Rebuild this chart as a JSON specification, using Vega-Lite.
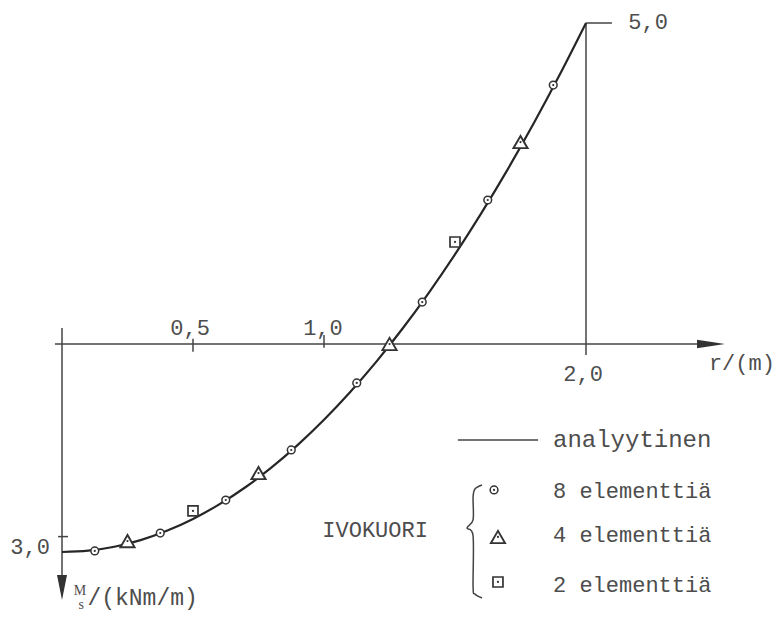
{
  "$schema": "https://vega.github.io/schema/vega-lite/v6.json",
  "width": 776,
  "height": 624,
  "padding": 0,
  "autosize": {"type": "fit", "contains": "padding"},
  "background": "white",
  "config": {"view": {"stroke": null}},
  "datasets": {
    "curve": [
      {"r": 0.0, "M": -3.24}, {"r": 0.1, "M": -3.219}, {"r": 0.2, "M": -3.158},
      {"r": 0.3, "M": -3.055}, {"r": 0.4, "M": -2.91}, {"r": 0.5, "M": -2.725},
      {"r": 0.6, "M": -2.498}, {"r": 0.7, "M": -2.231}, {"r": 0.8, "M": -1.922},
      {"r": 0.9, "M": -1.571}, {"r": 1.0, "M": -1.18}, {"r": 1.1, "M": -0.747},
      {"r": 1.2, "M": -0.274}, {"r": 1.3, "M": 0.241}, {"r": 1.4, "M": 0.798},
      {"r": 1.5, "M": 1.395}, {"r": 1.6, "M": 2.034}, {"r": 1.7, "M": 2.713},
      {"r": 1.8, "M": 3.434}, {"r": 1.9, "M": 4.197}, {"r": 2.0, "M": 5.0}
    ],
    "el8": [
      {"r": 0.125, "M": -3.224}, {"r": 0.375, "M": -2.944}, {"r": 0.625, "M": -2.43},
      {"r": 0.875, "M": -1.651}, {"r": 1.125, "M": -0.607}, {"r": 1.375, "M": 0.654},
      {"r": 1.625, "M": 2.243}, {"r": 1.875, "M": 4.034},
      {"r": 1.649, "M": -2.274}
    ],
    "el4": [
      {"r": 0.25, "M": -3.07}, {"r": 0.75, "M": -2.01}, {"r": 1.25, "M": 0.0},
      {"r": 1.75, "M": 3.146},
      {"r": 1.664, "M": -3.006}
    ],
    "el2": [
      {"r": 0.5, "M": -2.6}, {"r": 1.5, "M": 1.589},
      {"r": 1.664, "M": -3.707}
    ],
    "segs": [
      {"r1": -0.027, "r2": 2.45, "M1": 0.0, "M2": 0.0},
      {"r1": 0.0, "r2": 0.0, "M1": 0.25, "M2": -3.6},
      {"r1": 2.0, "r2": 2.0, "M1": 5.0, "M2": -0.17},
      {"r1": 2.0, "r2": 2.099, "M1": 5.0, "M2": 5.0},
      {"r1": -0.015, "r2": 0.023, "M1": -3.0, "M2": -3.0},
      {"r1": 0.5, "r2": 0.5, "M1": 0.08, "M2": -0.12},
      {"r1": 1.0, "r2": 1.0, "M1": 0.14, "M2": -0.06},
      {"r1": 1.511, "r2": 1.817, "M1": -1.495, "M2": -1.495}
    ],
    "brace": [
      {"i": 0, "r": 1.603, "M": -2.196},
      {"i": 1, "r": 1.576, "M": -2.259},
      {"i": 2, "r": 1.569, "M": -2.383},
      {"i": 3, "r": 1.569, "M": -2.741},
      {"i": 4, "r": 1.546, "M": -2.866},
      {"i": 5, "r": 1.569, "M": -2.991},
      {"i": 6, "r": 1.569, "M": -3.785},
      {"i": 7, "r": 1.576, "M": -3.894},
      {"i": 8, "r": 1.603, "M": -3.956}
    ],
    "arrowX": [{"r": 2.477, "M": 0.0}],
    "arrowY": [{"r": 0.0, "M": -3.793}],
    "labelsC": [
      {"r": 0.489, "M": 0.249, "t": "0,5"},
      {"r": 0.996, "M": 0.249, "t": "1,0"},
      {"r": 1.989, "M": -0.47, "t": "2,0"},
      {"r": 2.237, "M": 5.016, "t": "5,0"},
      {"r": -0.122, "M": -3.162, "t": "3,0"},
      {"r": 2.595, "M": -0.296, "t": "r/(m)"},
      {"r": 1.195, "M": -2.897, "t": "IVOKUORI"}
    ],
    "labelsA": [
      {"r": 1.874, "M": -1.495, "t": "analyytinen"}
    ],
    "labelsL": [
      {"r": 1.874, "M": -2.29, "t": "8 elementtiä"},
      {"r": 1.874, "M": -2.975, "t": "4 elementtiä"},
      {"r": 1.874, "M": -3.754, "t": "2 elementtiä"}
    ],
    "labM": [{"r": 0.069, "M": -3.84, "t": "M"}],
    "labS": [{"r": 0.073, "M": -4.06, "t": "s"}],
    "labU": [{"r": 0.097, "M": -3.95, "t": "/(kNm/m)"}]
  },
  "encoding": {
    "x": {"field": "r", "type": "quantitative", "scale": {"domain": [-0.23664, 2.72519], "nice": false, "zero": false}, "axis": null},
    "y": {"field": "M", "type": "quantitative", "scale": {"domain": [-4.3614, 5.3583], "nice": false, "zero": false}, "axis": null}
  },
  "layer": [
    {
      "data": {"name": "segs"},
      "mark": {"type": "rule", "stroke": "#444444", "strokeWidth": 1.5},
      "encoding": {
        "x": {"field": "r1", "type": "quantitative"},
        "x2": {"field": "r2"},
        "y": {"field": "M1", "type": "quantitative"},
        "y2": {"field": "M2"}
      }
    },
    {
      "data": {"name": "curve"},
      "mark": {"type": "line", "stroke": "#262626", "strokeWidth": 2.2, "interpolate": "monotone"},
      "encoding": {}
    },
    {
      "data": {"name": "brace"},
      "mark": {"type": "line", "stroke": "#444444", "strokeWidth": 1.5, "interpolate": "cardinal"},
      "encoding": {"order": {"field": "i", "type": "quantitative"}}
    },
    {
      "data": {"name": "arrowX"},
      "mark": {"type": "point", "shape": "M-1,-0.3L1,0L-1,0.3Z", "size": 784, "filled": true, "fill": "#333333", "opacity": 1, "strokeWidth": 0}
    },
    {
      "data": {"name": "arrowY"},
      "mark": {"type": "point", "shape": "M-0.4,-1L0.4,-1L0,1Z", "size": 625, "filled": true, "fill": "#333333", "opacity": 1, "strokeWidth": 0}
    },
    {
      "data": {"name": "el8"},
      "mark": {"type": "point", "shape": "circle", "size": 60, "filled": false, "stroke": "#333333", "strokeWidth": 1.5, "opacity": 1, "fill": "white", "fillOpacity": 1}
    },
    {
      "data": {"name": "el4"},
      "mark": {"type": "point", "shape": "triangle-up", "size": 200, "filled": false, "stroke": "#333333", "strokeWidth": 1.9, "opacity": 1, "fill": "white", "fillOpacity": 1}
    },
    {
      "data": {"name": "el2"},
      "mark": {"type": "point", "shape": "square", "size": 100, "filled": false, "stroke": "#333333", "strokeWidth": 1.7, "opacity": 1, "fill": "white", "fillOpacity": 1}
    },
    {
      "data": {"name": "el8"},
      "mark": {"type": "point", "shape": "circle", "size": 5, "filled": true, "fill": "#333333", "opacity": 1}
    },
    {
      "data": {"name": "el4"},
      "mark": {"type": "point", "shape": "circle", "size": 5, "filled": true, "fill": "#333333", "opacity": 1}
    },
    {
      "data": {"name": "el2"},
      "mark": {"type": "point", "shape": "circle", "size": 5, "filled": true, "fill": "#333333", "opacity": 1}
    },
    {
      "data": {"name": "labelsC"},
      "mark": {"type": "text", "font": "Liberation Mono", "fontSize": 22, "fill": "#4d4d4d", "align": "center", "baseline": "middle"},
      "encoding": {"text": {"field": "t"}}
    },
    {
      "data": {"name": "labelsA"},
      "mark": {"type": "text", "font": "Liberation Mono", "fontSize": 24, "fill": "#4d4d4d", "align": "left", "baseline": "middle"},
      "encoding": {"text": {"field": "t"}}
    },
    {
      "data": {"name": "labelsL"},
      "mark": {"type": "text", "font": "Liberation Mono", "fontSize": 22, "fill": "#4d4d4d", "align": "left", "baseline": "middle"},
      "encoding": {"text": {"field": "t"}}
    },
    {
      "data": {"name": "labM"},
      "mark": {"type": "text", "font": "Liberation Serif", "fontSize": 14, "fill": "#4d4d4d", "align": "center", "baseline": "middle"},
      "encoding": {"text": {"field": "t"}}
    },
    {
      "data": {"name": "labS"},
      "mark": {"type": "text", "font": "Liberation Serif", "fontSize": 14, "fill": "#4d4d4d", "align": "center", "baseline": "middle"},
      "encoding": {"text": {"field": "t"}}
    },
    {
      "data": {"name": "labU"},
      "mark": {"type": "text", "font": "Liberation Mono", "fontSize": 23, "fill": "#4d4d4d", "align": "left", "baseline": "middle"},
      "encoding": {"text": {"field": "t"}}
    }
  ]
}
